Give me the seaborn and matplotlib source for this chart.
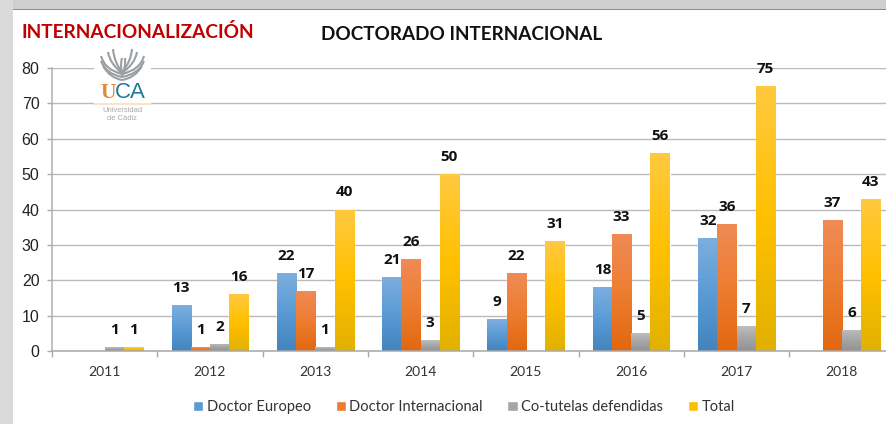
import numpy as np
import pandas as pd
import matplotlib
matplotlib.use("Agg")
import matplotlib.pyplot as plt
from matplotlib.colors import LinearSegmentedColormap
from matplotlib.patches import Rectangle, PathPatch
from matplotlib.path import Path
import seaborn as sns

years = ["2011", "2012", "2013", "2014", "2015", "2016", "2017", "2018"]
doctor_europeo = [np.nan, 13, 22, 21, 9, 18, 32, np.nan]
doctor_internacional = [np.nan, 1, 17, 26, 22, 33, 36, 37]
cotutelas = [1, 2, 1, 3, np.nan, 5, 7, 6]
total = [1, 16, 40, 50, 31, 56, 75, 43]

series_names = ["Doctor Europeo", "Doctor Internacional", "Co-tutelas defendidas", "Total"]
series_values = [doctor_europeo, doctor_internacional, cotutelas, total]
colors = ["#5B9BD5", "#ED7D31", "#A5A5A5", "#FFC000"]
gradients = [
    ["#7DAEDF", "#5B9BD5", "#4484BE"],
    ["#F08B55", "#ED7D31", "#E2680F"],
    ["#BDBDBD", "#A5A5A5", "#929292"],
    ["#FFC93F", "#FFC000", "#E2B100"],
]

W, H = 886, 424

# long table for seaborn
df = pd.DataFrame({
    "year": years * 4,
    "serie": [n for n in series_names for _ in years],
    "value": [v for vals in series_values for v in vals],
})

sns.set_theme(style="white")
plt.rcParams["font.family"] = ["Lato", "DejaVu Sans"]

fig = plt.figure(figsize=(W / 100, H / 100), dpi=100, facecolor="white")

# grey slide frame behind the chart
fig.add_artist(Rectangle((0, 1 - 9 / H), 1, 9 / H, transform=fig.transFigure, color="#CFCFCF", lw=0, zorder=-5))
fig.add_artist(Rectangle((0, 0), 13 / W, 1, transform=fig.transFigure, color="#DADADA", lw=0, zorder=-5))
fig.add_artist(Rectangle((13 / W, 1 - 10 / H), 1, 1.4 / H, transform=fig.transFigure, color="#8C8C8C", lw=0, zorder=-4))

ax = fig.add_axes([52 / W, 1 - 351 / H, 842.5 / W, 283 / H])
ax.patch.set_alpha(0)

sns.barplot(data=df, x="year", y="value", hue="serie", order=years, hue_order=series_names,
            palette=colors, width=0.73, errorbar=None, ax=ax, saturation=1)

ax.set_xlim(-0.5, 7.5)
ax.set_ylim(0, 80)

# office style vertical gradient on each bar
for cont, grad in zip(ax.containers, gradients):
    cmap = LinearSegmentedColormap.from_list("g", grad)
    for bar in cont:
        x0, y0 = bar.get_x(), bar.get_y()
        im = ax.imshow(np.linspace(0, 1, 64).reshape(-1, 1), cmap=cmap, aspect="auto", zorder=2.5,
                       extent=(x0, x0 + bar.get_width(), y0, y0 + bar.get_height()), origin="upper")
        im.set_clip_path(bar)
    ax.bar_label(cont, fmt="%g", padding=7.3, fontsize=11, fontweight="bold", color="#111111",
                 family=["Open Sans", "DejaVu Sans"], zorder=5)
ax.set_xlim(-0.5, 7.5)
ax.set_ylim(0, 80)
ax.set_aspect("auto")

ax.set_xlabel("")
ax.set_ylabel("")
ax.set_yticks(range(0, 81, 10))
ax.grid(axis="y", color="#BABABA", lw=1.0)
ax.set_axisbelow(True)
sns.despine(ax=ax, top=True, right=True)
ax.spines["left"].set_color("#B0B0B0")
ax.spines["bottom"].set_color("#A8A8A8")
ax.spines["left"].set_linewidth(1.1)
ax.spines["bottom"].set_linewidth(1.1)

ax.tick_params(axis="y", length=3.5, width=1, color="#A8A8A8", labelsize=11.5, labelcolor="#222222", pad=5.5, left=True)
for t in ax.get_yticklabels():
    t.set_family("Liberation Sans")
ax.set_xticks(np.arange(-0.5, 8, 1), minor=True)
ax.tick_params(axis="x", which="minor", length=4, width=1, color="#A8A8A8", bottom=True)
ax.tick_params(axis="x", which="major", length=0, labelsize=10, labelcolor="#333333", pad=10.7)

handles, labels = ax.get_legend_handles_labels()
ax.legend(handles, labels, loc="center", bbox_to_anchor=(464 / W, 1 - 407 / H), bbox_transform=fig.transFigure,
          ncol=4, frameon=False, fontsize=10.5, handlelength=0.7, handleheight=0.7, handletextpad=0.25,
          columnspacing=1.68, labelcolor="#333333")

# overlay in pixel coordinates for titles and logo
ov = fig.add_axes([0, 0, 1, 1], facecolor="none")
ov.set_xlim(0, W)
ov.set_ylim(H, 0)
ov.axis("off")

ov.text(22, 32, "INTERNACIONALIZACIÓN", color="#C00000", fontsize=13.7, fontweight="bold", va="center", ha="left")
ov.text(461.5, 35, "DOCTORADO INTERNACIONAL", color="#111111", fontsize=13.6, fontweight="bold", va="center", ha="center")

# logo
ov.add_patch(Rectangle((94, 46), 57, 76, color="white", lw=0))
ov.plot([94, 151], [104, 104], color="#FBDDBD", lw=1.2)
sprigs = [
    ((101, 56), (105, 70), (122, 74)), ((101, 61), (106, 74), (122, 77)), ((103, 66), (110, 78), (122, 80)),
    ((144, 56), (140, 70), (122, 74)), ((144, 61), (139, 74), (122, 77)), ((142, 66), (135, 78), (122, 80)),
    ((113, 49), (114, 62), (122, 72)), ((108, 52), (110, 64), (122, 73)),
    ((132, 49), (131, 62), (122, 72)), ((137, 52), (135, 64), (122, 73)),
    ((122, 58), (120, 66), (122, 76)), ((125, 58), (126, 66), (122, 76)),
]
for p0, p1, p2 in sprigs:
    ov.add_patch(PathPatch(Path([p0, p1, p2], [Path.MOVETO, Path.CURVE3, Path.CURVE3]), fc="none", ec="#9A9FA3", lw=1.5))
ov.text(100, 93, "U", color="#E08A2E", fontsize=15.5, va="center", ha="left", family="Liberation Serif", fontweight="bold")
ov.text(115, 93, "CA", color="#1F7A9C", fontsize=16, va="center", ha="left", family="Liberation Sans")
ov.text(122.5, 110, "Universidad", color="#A8A8A8", fontsize=5.4, va="center", ha="center", family="Liberation Sans")
ov.text(122.5, 118, "de Cádiz", color="#A8A8A8", fontsize=5.4, va="center", ha="center", family="Liberation Sans")

fig.savefig("out.png", dpi=100, facecolor=fig.get_facecolor())
